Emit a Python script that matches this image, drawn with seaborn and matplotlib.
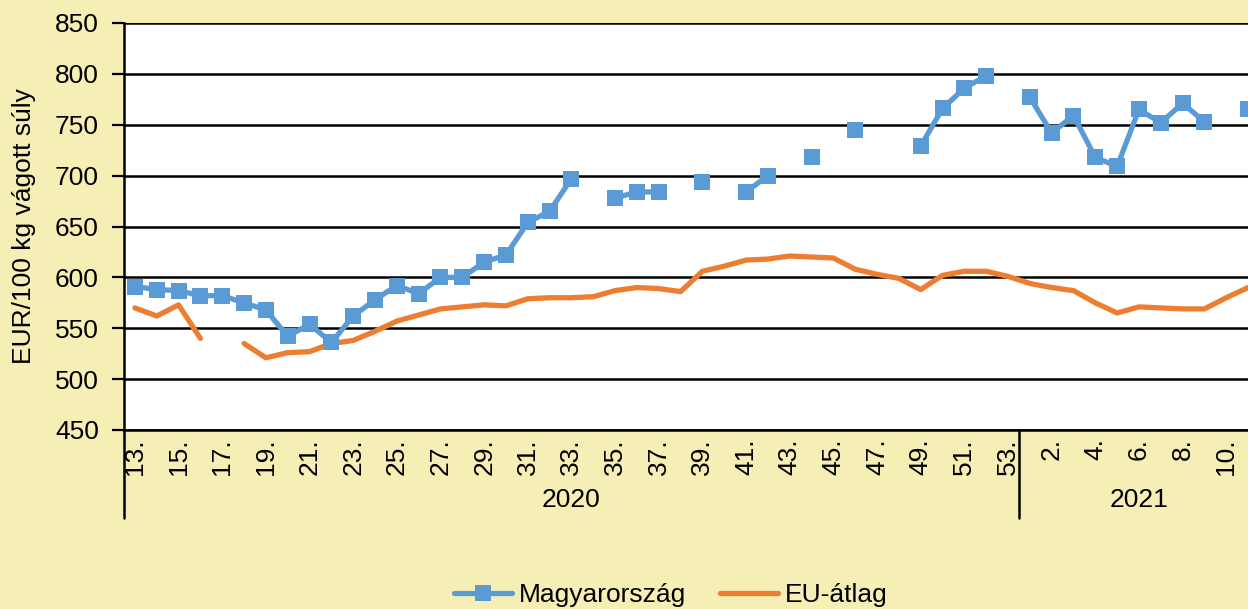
import numpy as np
import pandas as pd
import matplotlib
matplotlib.use("Agg")
import matplotlib.pyplot as plt
import matplotlib.transforms as mtransforms
from matplotlib.lines import Line2D
import seaborn as sns

# Weekly categories: 2020 weeks 13-53, 2021 weeks 1-11
weeks_2020 = list(range(13, 54))
weeks_2021 = list(range(1, 12))
week_labels = [f"{w}." for w in weeks_2020 + weeks_2021]
years = ["2020", "2021"]

nan = np.nan
# Slaughter pig prices, EUR/100 kg carcass weight
hungary = [591, 588, 587, 582, 582, 575, 568, 542, 554, 536,      # 13-22
           562, 578, 592, 584, 600, 600, 615, 622, 654, 665,      # 23-32
           697, nan, 678, 684, 684, nan, 694, nan, 684, 700,      # 33-42
           nan, 718, nan, 745, nan, nan, 729, 766, 786, 798,      # 43-52
           nan,                                                   # 53
           777, 742, 759, 718, 709, 765, 752, 771, 753, nan, 765]  # 2021: 1-11
eu_avg = [570, 562, 573, 540, nan, 535, 521, 526, 527, 535,
          538, 547, 557, 563, 569, 571, 573, 572, 579, 580,
          580, 581, 587, 590, 589, 586, 606, 611, 617, 618,
          621, 620, 619, 608, 603, 599, 588, 602, 606, 606,
          601,
          594, 590, 587, 575, 565, 571, 570, 569, 569, 580, 590]

series_names = ["Magyarország", "EU-átlag"]
colors = {"Magyarország": "#5B9BD5", "EU-átlag": "#ED7D31"}
bg = "#F5EFB6"
fs = 19

df = pd.DataFrame({"pos": np.arange(len(week_labels)),
                   "Magyarország": hungary, "EU-átlag": eu_avg})

sns.set_theme(style="white")
plt.rcParams["font.family"] = ["Liberation Sans", "DejaVu Sans"]

fig = plt.figure(figsize=(12.48, 6.09), dpi=100, facecolor=bg)
ax = fig.add_axes([124 / 1248, 1 - 430 / 609, 1135 / 1248, 407 / 609])
ax.set_facecolor("white")


def draw_runs(name, **kw):
    """Draw a series as separate pieces, broken at missing weeks."""
    s = df[name]
    ok = s.notna()
    run_id = (~ok).cumsum()
    for _, chunk in df[ok].groupby(run_id[ok]):
        sns.lineplot(data=chunk, x="pos", y=name, ax=ax, legend=False,
                     estimator=None, sort=False, color=colors[name], **kw)


draw_runs("EU-átlag", linewidth=3.8, solid_capstyle="round", zorder=3)
draw_runs("Magyarország", linewidth=3.8, marker="s", markersize=11,
          markeredgewidth=0, solid_capstyle="round", zorder=4)

# Axes limits and ticks
ax.set_xlim(-0.5, len(week_labels) - 0.5)
ax.set_ylim(450, 850)
ax.set_yticks(np.arange(450, 851, 50))
ax.set_xticks(df["pos"][::2])
ax.set_xticklabels(week_labels[::2], rotation=90, va="top", ha="center")
ax.tick_params(axis="x", length=0, pad=6, labelsize=fs, colors="black")
ax.tick_params(axis="y", length=9, width=1.6, direction="out", pad=9,
               labelsize=fs, colors="black", left=True)
ax.set_xlabel("")
ax.set_ylabel("EUR/100 kg vágott súly", fontsize=fs, color="black")
ax.yaxis.set_label_coords(-88 / 1135, 0.5)

ax.grid(axis="y", color="black", linewidth=1.8)
ax.grid(axis="x", visible=False)
ax.set_axisbelow(True)
for side in ("top", "right"):
    ax.spines[side].set_visible(False)
ax.spines["left"].set_color("black")
ax.spines["left"].set_linewidth(1.8)
ax.spines["bottom"].set_color("black")
ax.spines["bottom"].set_linewidth(1.8)

# Year grouping below the week labels
trans = mtransforms.blended_transform_factory(ax.transData, ax.transAxes)
n2020 = len(weeks_2020)
n_all = len(week_labels)
depth = -88 / 407
for xb in (-0.5, n2020 - 0.5):
    ax.add_line(Line2D([xb, xb], [0, depth], transform=trans, color="black",
                       linewidth=1.8, clip_on=False))
centers = [(-0.5 + n2020 - 0.5) / 2, (n2020 - 0.5 + n_all - 0.5) / 2]
for yr, cx in zip(years, centers):
    ax.text(cx, -70 / 407, yr, transform=trans, ha="center", va="center",
            fontsize=fs, color="black")

# Legend
handles = [
    Line2D([], [], color=colors["Magyarország"], linewidth=3.8, marker="s",
           markersize=11, markeredgewidth=0, solid_capstyle="round"),
    Line2D([], [], color=colors["EU-átlag"], linewidth=3.8,
           solid_capstyle="round"),
]
fig.legend(handles, series_names, loc="center", ncol=2,
           bbox_to_anchor=(671 / 1248, 14 / 609), frameon=False,
           fontsize=fs, handlelength=2.2, handletextpad=0.25,
           columnspacing=1.3, labelcolor="black")

fig.savefig("out.png", dpi=100, facecolor=bg)
